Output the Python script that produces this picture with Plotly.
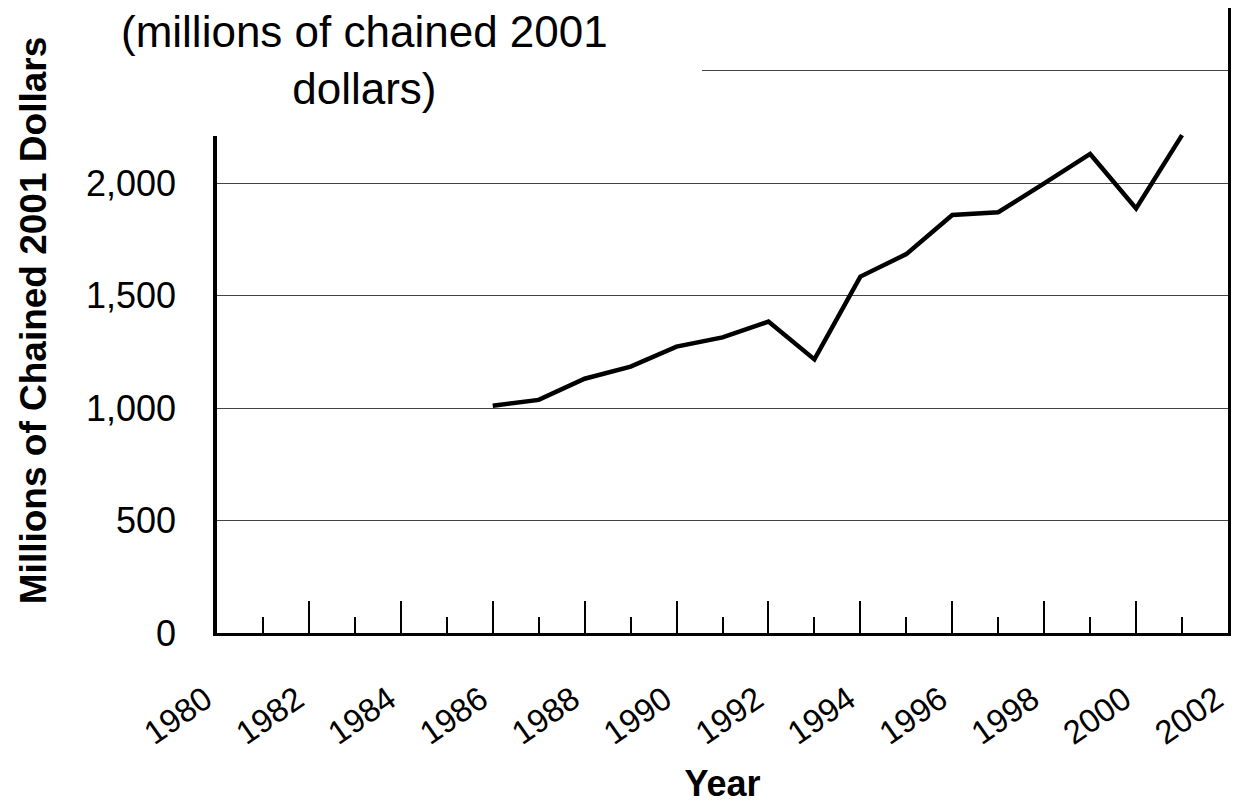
import plotly.graph_objects as go

years = [1986, 1987, 1988, 1989, 1990, 1991, 1992, 1993, 1994, 1995, 1996, 1997, 1998, 1999, 2000, 2001]
values = [1010, 1036, 1130, 1184, 1273, 1314, 1384, 1216, 1584, 1684, 1858, 1870, 1998, 2129, 1887, 2213]

x_ticks = list(range(1980, 2003, 2))
x_labels = [str(y) for y in x_ticks]
y_ticks = [0, 500, 1000, 1500, 2000, 2500]
y_labels = ["0", "500", "1,000", "1,500", "2,000", "2,500"]

FONT = "Liberation Sans, Arial, sans-serif"

# page has an 8px body margin; figure sized to fit the window without scrollbars
OFF = 8
W, H = 1239 - 2 * OFF, 812 - 2 * OFF
L = 217 - OFF
R = W - (1228 - OFF)
T = 0
B = H - (633 - OFF)
pw = W - L - R
ph = H - T - B

def px_x(p):  # page pixel -> paper x
    return (p - OFF - L) / pw

def px_y(p):  # page pixel -> paper y
    return (H - B - (p - OFF)) / ph

fig = go.Figure()
fig.add_trace(go.Scatter(
    x=years, y=values, mode="lines",
    line=dict(color="black", width=4.5),
    showlegend=False, hoverinfo="skip",
))
# invisible helper trace on right axis to draw the right border
fig.add_trace(go.Scatter(x=[1986], y=[values[0]], yaxis="y2", mode="lines",
                         line=dict(width=0), showlegend=False, hoverinfo="skip"))

ytop = ph / 0.225

fig.update_layout(
    width=W, height=H,
    margin=dict(l=L, r=R, t=T, b=B, autoexpand=False),
    paper_bgcolor="white", plot_bgcolor="white",
    font=dict(family=FONT, color="black"),
    xaxis=dict(
        range=[1979.9999, 2002.0001],
        automargin=False,
        tickmode="array", tickvals=x_ticks, ticktext=x_labels,
        ticks="inside", ticklen=32, tickwidth=1.5, tickcolor="black",
        minor=dict(ticks="inside", ticklen=16, tickwidth=1.5, tickcolor="black",
                   dtick=1, tick0=1980, showgrid=False),
        tickangle=-35, tickfont=dict(size=33, family=FONT),
        ticklabelstandoff=31, ticklabelshift=-12,
        ticklabeloverflow="allow",
        showgrid=False, zeroline=False,
        showline=True, linecolor="black", linewidth=3,
        title=dict(text="Year", font=dict(size=36, family=FONT, weight="bold"), standoff=42),
    ),
    yaxis=dict(
        range=[0, ytop],
        automargin=False,
        tickmode="array", tickvals=y_ticks, ticktext=y_labels,
        ticks="", tickfont=dict(size=36, family=FONT),
        ticklabelstandoff=30,
        showgrid=True, gridcolor="#444444", gridwidth=1,
        zeroline=False,
        showline=True, linecolor="black", linewidth=3.5,
        title=dict(text="Millions of Chained 2001 Dollars",
                   font=dict(size=37, family=FONT, weight="bold"), standoff=29),
    ),
    yaxis2=dict(
        overlaying="y", side="right", range=[0, ytop],
        automargin=False,
        showline=True, linecolor="black", linewidth=2.5,
        showticklabels=False, ticks="", showgrid=False, zeroline=False,
    ),
    shapes=[
        dict(type="rect", xref="paper", yref="paper",
             x0=px_x(-2), x1=px_x(702),
             y0=px_y(136), y1=px_y(-5),
             fillcolor="white", line=dict(width=0), layer="above"),
    ],
    annotations=[
        dict(text="(millions of chained 2001<br>dollars)",
             xref="paper", yref="paper",
             x=px_x(364), y=px_y(5),
             xanchor="center", yanchor="top", showarrow=False,
             align="center",
             font=dict(size=44, family=FONT, color="black")),
    ],
)

fig.write_html("out.html")
